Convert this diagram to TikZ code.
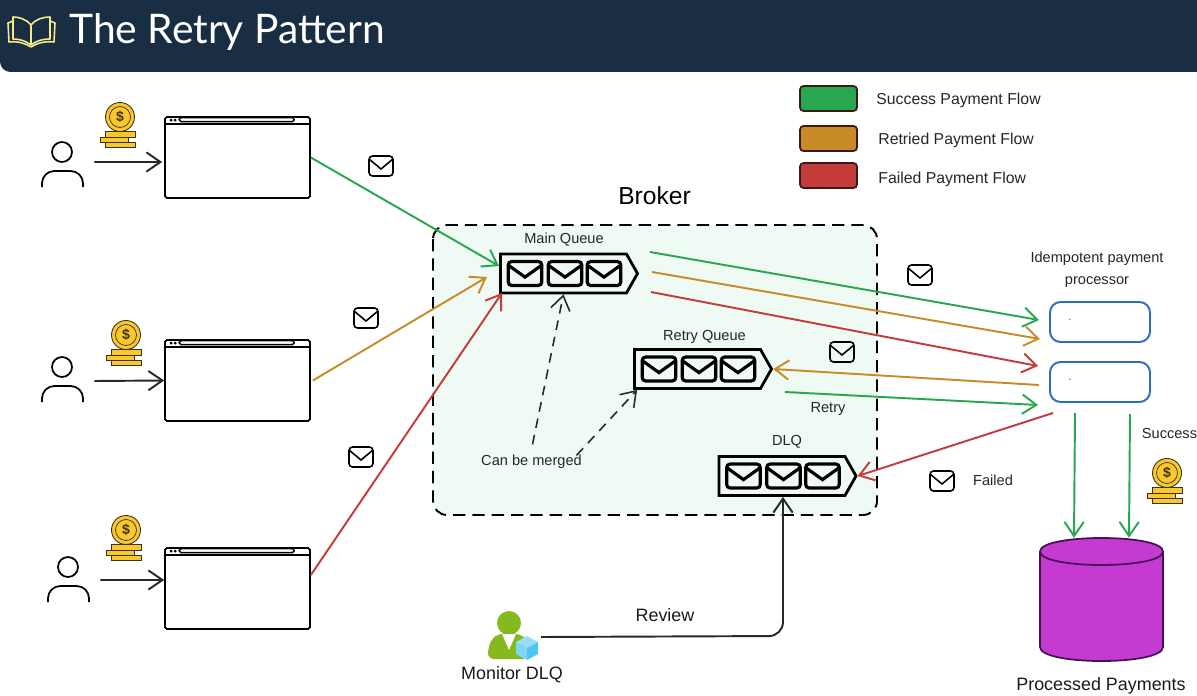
\documentclass[tikz,border=0pt]{standalone}
\usepackage{fontspec}
\setmainfont{Liberation Sans}
\newfontfamily\titlefont{Lato}
\usetikzlibrary{arrows.meta,shapes.symbols,calc}
\definecolor{navy}{RGB}{25,46,66}
\definecolor{okgreen}{RGB}{40,166,80}
\definecolor{retryorange}{RGB}{201,138,40}
\definecolor{failred}{RGB}{196,60,58}
\definecolor{brokerfill}{RGB}{240,250,244}
\definecolor{procblue}{RGB}{43,108,196}
\definecolor{coinyellow}{RGB}{249,199,46}
\definecolor{coindark}{RGB}{60,50,20}
\definecolor{bookyellow}{RGB}{245,235,140}
\definecolor{dbpurple}{RGB}{197,59,208}
\definecolor{dbedge}{RGB}{70,15,90}
\definecolor{inkline}{RGB}{40,40,40}
\definecolor{legendedge}{RGB}{60,25,25}
\definecolor{monitorgreen}{RGB}{134,185,30}
\tikzset{
  barb/.style={-{Straight Barb[length=8pt,width=11pt]}},
  flow/.style={barb, line width=1.1pt},
  hintflow/.style={barb, inkline, line width=0.9pt, dash pattern=on 5.5pt off 4pt},
  webbox/.style={draw=black, line width=1pt, rounded corners=1pt, fill=white, minimum width=2.9cm, minimum height=1.62cm, inner sep=0pt},
  queuebox/.style={shape=signal, signal to=east, signal pointer angle=121, draw=black, line width=1.6pt, fill=none, minimum width=2.74cm, minimum height=0.78cm, inner sep=0pt},
  procbox/.style={draw=procblue, line width=1.1pt, rounded corners=6pt, fill=white, minimum width=2cm, minimum height=0.8cm, inner sep=0pt},
  legendbox/.style={draw=legendedge, line width=1pt, rounded corners=2pt, minimum width=1.14cm, minimum height=0.5cm, inner sep=0pt},
  label/.style={font=\fontsize{8.3}{10}\selectfont, text=black!85, inner sep=0pt},
  legendlabel/.style={font=\fontsize{9}{11}\selectfont, text=black!85, anchor=west, inner sep=0pt},
  biglabel/.style={font=\fontsize{10.2}{12}\selectfont, text=black!90, inner sep=0pt},
  holder/.style={inner sep=0pt, minimum width=1.28cm, minimum height=1.0cm},
  person/.pic={
    \draw[line width=1pt, black] (0,0) circle[radius=10];
    \draw[line width=1pt, black, rounded corners=7pt] (-20,35) -- (-20,19) -- (21,19) -- (21,35);
  },
  coin/.pic={
    \draw[fill=coinyellow, draw=coindark, line width=0.4pt] (-15,14) rectangle (15,20);
    \draw[fill=coinyellow, draw=coindark, line width=0.4pt] (-20,20) rectangle (8,25);
    \draw[fill=coinyellow, draw=coindark, line width=0.4pt] (-15,25) rectangle (15,30);
    \draw[fill=coinyellow, draw=coindark, line width=0.5pt] (0,0) circle[radius=14.5];
    \draw[draw=coindark, line width=0.4pt] (0,0) circle[radius=10.5];
    \node[text=coindark, font=\fontsize{8}{8}\selectfont\bfseries, inner sep=0pt] at (0,0) {\$};
  },
  mail/.pic={
    \draw[rounded corners=2pt] (-12,-10) rectangle (12,10);
    \draw (-12,-7) -- (0,3) -- (12,-7);
  },
  urlbar/.pic={
    \draw[line width=0.8pt] (0,8) -- (145,8);
    \draw[fill=white, line width=0.8pt, rounded corners=1pt] (15,1.5) rectangle (130,5.5);
    \fill (7,4) circle[radius=1.6] (11,4) circle[radius=1.6];
  }
}
\newcommand{\queuemails}[1]{%
  \foreach \dx in {-38.5,1.5,40.5}
    \pic[xscale=1.4, yscale=1.2, line width=1.8pt, black] at ($(#1)+(\dx,0)$) {mail};
}
\begin{document}
\begin{tikzpicture}[x=0.02cm, y=-0.02cm]
  \useasboundingbox (0,0) rectangle (1197,696);

  % header
  \begin{scope}
    \clip (0,0) rectangle (1197,696);
    \fill[navy, rounded corners=6pt] (0,-20) rectangle (1230,72);
  \end{scope}
  \draw[bookyellow, line width=0.9pt, line join=round]
    (31,25) .. controls (26,19) and (19,17) .. (13,17) -- (13,39) .. controls (20,39) and (26,41) .. (31,45)
    .. controls (36,41) and (42,39) .. (50,39) -- (50,17) .. controls (43,17) and (36,19) .. (31,25) -- (31,45);
  \draw[bookyellow, line width=0.9pt, line join=round]
    (13,21) -- (8,23) -- (9,42) .. controls (17,41) and (25,43) .. (31,47)
    .. controls (37,43) and (45,41) .. (54,42) -- (55,23) -- (50,21);
  \node[text=white, anchor=west, inner sep=0pt, font=\fontsize{23.2}{28}\selectfont\titlefont] (title) at (69,32) {The Retry Pattern};

  % legend
  \node[legendbox, fill=okgreen] (lgok) at (828.5,98.5) {};
  \node[legendbox, fill=retryorange] (lgretry) at (828.5,138.5) {};
  \node[legendbox, fill=failred] (lgfail) at (828.5,175.5) {};
  \node[legendlabel] (lgoktext) at (876,100) {Success Payment Flow};
  \node[legendlabel] (lgretrytext) at (878,140.5) {Retried Payment Flow};
  \node[legendlabel] (lgfailtext) at (878,179) {Failed Payment Flow};

  % broker
  \draw[line width=1.1pt, dash pattern=on 7pt off 4pt, fill=brokerfill, rounded corners=8pt] (433,225) rectangle (877,515);
  \node[font=\fontsize{14}{16}\selectfont, inner sep=0pt] (brokertext) at (654.5,196) {Broker};

  \node[queuebox] (mainq) at (563.5,273.5) {};
  \node[queuebox] (retryq) at (697.5,369) {};
  \node[queuebox] (dlq) at (782,476) {};
  \queuemails{mainq}
  \queuemails{retryq}
  \queuemails{dlq}
  \node[label] (mainqtext) at (564,239.5) {Main Queue};
  \node[label] (retryqtext) at (704.5,337) {Retry Queue};
  \node[label] (dlqtext) at (787,441.5) {DLQ};
  \node[label] (merged) at (531.5,461.5) {Can be merged};

  % clients
  \node[holder] (user1) at (62,162) {};
  \node[holder] (user2) at (62,381) {};
  \node[holder] (user3) at (68,580) {};
  \pic at (62,152) {person};
  \pic at (62,367) {person};
  \pic at (68,567) {person};
  \pic at (120,117) {coin};
  \pic at (126,335) {coin};
  \pic at (126,530) {coin};
  \pic at (1167,473) {coin};

  \node[webbox] (web1) at (237.5,157.5) {};
  \node[webbox] (web2) at (237.5,380.5) {};
  \node[webbox] (web3) at (237.5,588.5) {};
  \foreach \w in {web1,web2,web3}
    \pic at (\w.north west) {urlbar};

  \draw[flow, inkline] (user1.east) -- ([yshift=-0.09cm,xshift=-0.04cm]web1.west);
  \draw[flow, inkline] (user2.east) -- (web2.west);
  \draw[flow, inkline] (user3.east) -- ([yshift=0.17cm]web3.west);

  % processors
  \node[procbox] (proc1) at (1100,322) {};
  \node[procbox] (proc2) at (1100,382) {};
  \node[text=procblue, font=\scriptsize, inner sep=0pt] (dot1) at (1070,320) {.};
  \node[text=procblue, font=\scriptsize, inner sep=0pt] (dot2) at (1070,380) {.};
  \node[label, align=center] (proctext) at (1097,269.5) {Idempotent payment\\[2.5pt]processor};

  % database
  \node[inner sep=0pt, minimum width=2.46cm, minimum height=2.46cm] (db) at (1101.5,599.5) {};
  \draw[dbedge, line width=1pt, fill=dbpurple] (1040,551.5) -- (1040,647) .. controls (1040,665.7) and (1163,665.7) .. (1163,647) -- (1163,551.5)
    .. controls (1163,533.5) and (1040,533.5) .. (1040,551.5) -- cycle;
  \draw[dbedge, line width=1pt] (1040,551.5) .. controls (1040,569.5) and (1163,569.5) .. (1163,551.5);
  \node[biglabel] (dbtext) at (1101,686) {Processed Payments};

  % flows to the main queue
  \coordinate (mainin1) at (499,266);
  \coordinate (mainin2) at (487,277);
  \coordinate (mainin3) at (502,293);
  \draw[flow, okgreen] (web1.east) -- (mainin1);
  \draw[flow, retryorange] ([xshift=0.04cm]web2.east) -- (mainin2);
  \draw[flow, failred] ([yshift=0.27cm]web3.east) -- (mainin3);

  % flows to the processors
  \coordinate (out1) at (650,252);
  \coordinate (out2) at (652,272);
  \coordinate (out3) at (651,292);
  \coordinate (proc1in1) at (1039,320);
  \coordinate (proc1in2) at (1040,339);
  \coordinate (proc2in1) at (1038,366);
  \coordinate (proc2out1) at (1039,385);
  \coordinate (proc2in2) at (1038,405);
  \coordinate (retryout) at (785,392);
  \coordinate (proc2out2) at (1053,413);
  \draw[flow, okgreen] (out1) -- (proc1in1);
  \draw[flow, retryorange] (out2) -- (proc1in2);
  \draw[flow, failred] (out3) -- (proc2in1);
  \draw[flow, retryorange] (proc2out1) -- (retryq.east);
  \draw[flow, okgreen] (retryout) -- (proc2in2);
  \draw[flow, failred] (proc2out2) -- (dlq.east);
  \coordinate (succ1) at (1075,413);
  \coordinate (succ2) at (1130,414);
  \draw[flow, okgreen] (succ1) -- ([xshift=-0.55cm]db.north);
  \draw[flow, okgreen] (succ2) -- ([xshift=0.55cm]db.north);

  % merge hints
  \draw[hintflow] ([xshift=0.02cm,yshift=0.2cm]merged.north) -- (mainq.south);
  \draw[hintflow] ([xshift=0.9cm,yshift=-0.02cm]merged.north) -- ([xshift=0.08cm]retryq.south west);

  % monitor
  \node[inner sep=0pt, minimum width=0.95cm, minimum height=1.0cm] (monitor) at (511,637) {};
  \fill[monitorgreen] (509,623) circle[radius=12];
  \fill[monitorgreen, rounded corners=4pt] (487,659) -- (490,640) -- (500,633) -- (518,633) -- (528,640) -- (530,659) -- cycle;
  \fill[white] (502,634) -- (516,634) -- (509,650) -- cycle;
  \fill[cyan!40] (527,636) -- (538,642) -- (527,648) -- (516,642) -- cycle;
  \fill[cyan!70] (538,642) -- (538,654) -- (527,660) -- (527,648) -- cycle;
  \fill[cyan!50] (516,642) -- (516,654) -- (527,660) -- (527,648) -- cycle;
  \node[biglabel] (monitortext) at (512,675) {Monitor DLQ};
  \node[biglabel] (reviewtext) at (665,615) {Review};
  \draw[flow, inkline, rounded corners=8pt] ([xshift=0.12cm]monitor.east) -- (783,636) -- ([xshift=0.02cm]dlq.south);

  % mail marks and text
  \foreach \mx/\my in {381/166,366/318,361/457,920/275,842/352,942/481}
    \pic[line width=0.9pt, black] at (\mx,\my) {mail};
  \node[label] (retrytext) at (828,409) {Retry};
  \node[label] (failedtext) at (993,480) {Failed};
  \node[label] (successtext) at (1169.5,433.5) {Success};
\end{tikzpicture}
\end{document}
